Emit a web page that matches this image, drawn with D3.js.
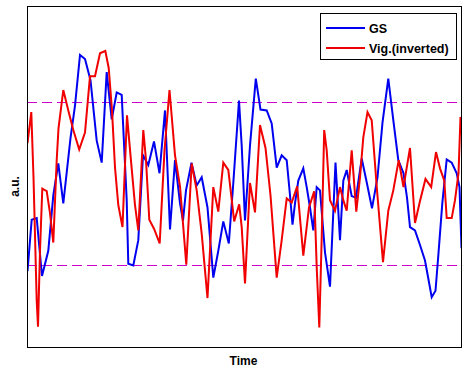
<!DOCTYPE html>
<html>
<head>
<meta charset="utf-8">
<script src="https://cdnjs.cloudflare.com/ajax/libs/d3/7.8.5/d3.min.js"></script>
<style>
    body { margin: 0; background: #fff; }
    text { font-family: "Liberation Sans", Arial, sans-serif; font-weight: bold; }
</style>
</head>
<body>
<script>
// time (samples) and amplitude (a.u.)
var gsTime = [0.5, 4.7, 9.7, 15, 21.3, 26.3, 31.3, 36.3, 43.5, 48, 53, 58, 63.5, 69.7, 74.7, 79.7, 84.7, 89.7, 94.7, 99.7,
    101.3, 106.3, 111.3, 116, 121.3, 127, 132.5, 138, 143, 148, 153, 156, 159, 164.5, 169.7, 174.7, 180.5, 186.3, 191.3, 196.3,
    201.8, 206.3, 212, 214.7, 218, 223, 228.8, 233.5, 239.7, 244.7, 249.7, 254.7, 259.7, 263, 265.5, 268, 271.3, 276.3, 279.7, 283,
    286.3, 289.7, 293, 298, 303, 308.5, 313, 316.3, 319.7, 324.7, 329, 334.7, 339.7, 345, 350.5, 355.5, 361.3, 366.3, 371.3, 376.5,
    380, 383, 388, 393, 398, 401.3, 404.7, 408.5, 411.5, 415.3, 419.7, 424.7, 429.7, 432.5, 434.5];
var gsValues = [-1.07, -0.44, -0.42, -1.13, -0.82, -0.14, 0.25, -0.24, 0.56, 0.96, 1.58, 1.53, 1.27, 0.53, 0.26, 1.37, 0.79, 1.12, 1.09, -0.20,
    -0.98, -1.00, -0.69, 0.35, 0.23, 0.52, 0.13, 0.90, -0.56, 0.29, -0.24, -0.45, -0.08, 0.26, -0.02, 0.08, -0.29, -1.15, -0.82, -0.46,
    -0.73, 0.01, 1.02, 0.47, -0.45, 0.47, 1.29, 0.91, 0.90, 0.74, 0.20, 0.35, 0.29, -0.14, -0.50, -0.24, 0.04, 0.19, -0.04, -0.29,
    -0.57, -0.04, -0.08, -0.84, -1.26, 0.26, -0.69, 0.04, 0.17, -0.15, -0.17, 0.31, 0.02, -0.30, 0.08, 0.75, 1.29, 0.78, 0.29, 0.13,
    -0.17, -0.53, -0.57, -0.75, -0.94, -1.16, -1.39, -1.31, -0.85, -0.24, 0.30, 0.26, 0.13, -0.04, -0.79];

var vigTime = [0.5, 4.3, 6.5, 9.7, 11, 13, 15.3, 19.7, 23, 26.3, 29.7, 31.5, 36.3, 41.3, 46.3, 52.2, 58, 63, 68, 73,
    78.3, 81.7, 85, 88, 91.3, 95.5, 100, 103.5, 108, 111.3, 116.3, 119, 122.3, 127, 132.7, 137.5, 142.5, 148, 153, 159.3,
    164.7, 169.7, 174.7, 180.5, 186.3, 191.3, 196.3, 201.3, 207.2, 212.2, 214.7, 218, 223, 228, 233, 238.5, 243.5, 249.7, 254.7, 259.7,
    264.7, 270.2, 276.3, 282, 287.2, 289.7, 292.3, 294.7, 297.2, 299.7, 303, 308, 313, 316.3, 319.7, 324.7, 329.3, 333, 336.3, 340.5,
    344.7, 349.7, 356, 361.3, 366.3, 371.7, 376.5, 383, 388, 393, 398.5, 404.2, 409, 413, 417.3, 419.7, 424.7, 428, 431.5, 433.5, 435];
var vigValues = [0.50, 0.88, 0.08, -1.43, -1.75, -0.82, -0.06, -0.09, -0.36, -0.72, 0.29, 0.68, 1.15, 0.90, 0.66, 0.42, 0.63, 1.32, 1.32, 1.60,
    1.63, 1.42, 0.90, 0.20, -0.26, -0.53, 0.84, 0.35, -0.26, -0.57, 0.66, 0.29, -0.44, -0.55, -0.73, 0.41, 1.15, 0.35, -0.03, -0.99,
    0.25, -0.08, -0.61, -1.40, -0.04, -0.34, 0.26, 0.17, -0.46, -0.25, -0.53, -1.22, 0.01, -0.35, 0.72, 0.44, -0.14, -1.15, -0.69, -0.18,
    -0.23, -0.03, -0.88, -0.29, -0.09, -1.02, -1.76, -0.66, 0.66, 0.41, -0.20, -0.33, -0.04, -0.20, -0.33, 0.41, -0.34, 0.08, 0.57, 0.88,
    0.78, -0.03, -0.96, -0.33, -0.08, 0.29, -0.04, 0.44, -0.48, -0.21, 0.06, -0.04, 0.39, 0.19, 0.04, -0.42, -0.42, -0.20, 0.13, 0.82, 0.60];

var thresholds = [1, -1];
var seriesNames = ["GS", "Vig.(inverted)"];
var seriesColors = ["#0000f0", "#f00000"];

var w = 467;
var h = 368;
var plot = { left: 27, right: 462, top: 6, bottom: 347 };

var x = d3.scaleLinear().domain([0, 435]).range([plot.left, plot.right]);
var y = d3.scaleLinear().domain([-2.0, 2.18]).range([plot.bottom, plot.top]);

var svg = d3.select("body")
    .append("svg")
    .attr("width", w)
    .attr("height", h);

svg.append("defs").append("clipPath")
    .attr("id", "clip")
    .append("rect")
    .attr("x", plot.left)
    .attr("y", plot.top)
    .attr("width", plot.right - plot.left)
    .attr("height", plot.bottom - plot.top);

var toPoints = function (times, values) {
    return times.map((t, i) => { return { t: t, v: values[i] } });
}

var line = d3.line()
    .x((d) => { return x(d.t) })
    .y((d) => { return y(d.v) });

var drawThresholds = function () {
    svg.selectAll(".threshold")
        .data(thresholds)
        .enter()
        .append("line")
        .attr("class", "threshold")
        .attr("x1", x(0))
        .attr("x2", x(435))
        .attr("y1", (d) => { return Math.round(y(d)) + 0.5 })
        .attr("y2", (d) => { return Math.round(y(d)) + 0.5 })
        .style("stroke", "#cc00cc")
        .style("stroke-width", 1)
        .style("stroke-dasharray", "10,5");
}

var drawSeries = function () {
    var series = [toPoints(gsTime, gsValues), toPoints(vigTime, vigValues)];
    svg.append("g")
        .attr("clip-path", "url(#clip)")
        .selectAll("path")
        .data(series)
        .enter()
        .append("path")
        .attr("d", line)
        .style("fill", "none")
        .style("stroke", (d, i) => { return seriesColors[i] })
        .style("stroke-width", 2)
        .style("stroke-linejoin", "miter");
}

var drawFrame = function () {
    svg.append("rect")
        .attr("x", plot.left + 0.5)
        .attr("y", plot.top + 0.5)
        .attr("width", plot.right - plot.left - 1)
        .attr("height", plot.bottom - plot.top)
        .style("fill", "none")
        .style("stroke", "#000")
        .style("stroke-width", 1);

    svg.append("text")
        .attr("x", (plot.left + plot.right) / 2 - 1)
        .attr("y", 365)
        .attr("text-anchor", "middle")
        .style("font-size", "12px")
        .text("Time");

    svg.append("text")
        .attr("transform", "translate(19," + ((plot.top + plot.bottom) / 2 + 10) + ") rotate(-90)")
        .attr("text-anchor", "middle")
        .style("font-size", "12px")
        .text("a.u.");
}

var drawLegend = function () {
    var legend = svg.append("g");

    legend.append("rect")
        .attr("x", 320.5)
        .attr("y", 13.5)
        .attr("width", 136)
        .attr("height", 46)
        .style("fill", "#fff")
        .style("stroke", "#000")
        .style("stroke-width", 1);

    var items = legend.selectAll(".item")
        .data(seriesNames)
        .enter()
        .append("g")
        .attr("class", "item")
        .attr("transform", (d, i) => { return "translate(0," + (28 + i * 20) + ")" });

    items.append("line")
        .attr("x1", 326)
        .attr("x2", 365)
        .style("stroke", (d, i) => { return seriesColors[i] })
        .style("stroke-width", 2);

    items.append("text")
        .attr("x", 369)
        .attr("y", 4.5)
        .style("font-size", "12.5px")
        .text((d) => { return d });
}

drawThresholds();
drawSeries();
drawFrame();
drawLegend();
</script>
</body>
</html>
